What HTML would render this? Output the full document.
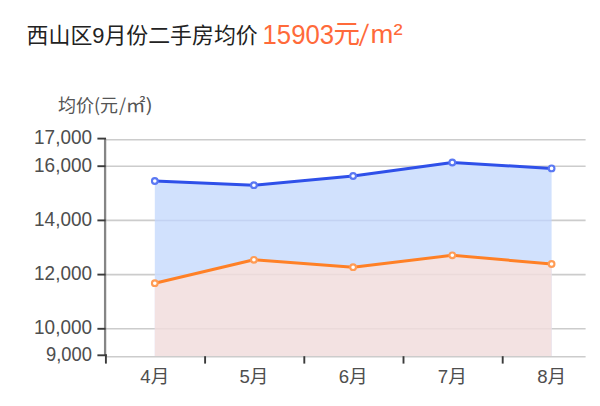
<!DOCTYPE html>
<html lang="zh">
<head>
<meta charset="utf-8">
<title>西山区9月份二手房均价</title>
<style>
html,body{margin:0;padding:0;background:#fff;}
body{width:600px;height:406px;overflow:hidden;position:relative;font-family:"Liberation Sans","Noto Sans CJK SC",sans-serif;}
svg{position:absolute;left:0;top:0;display:block;}
text{font-family:"Liberation Sans","Noto Sans CJK SC",sans-serif;}
.t1{font-size:21.9px;fill:#222;}
.t2{font-size:26.6px;fill:#ff6a3a;}
.t2d{font-size:27.6px;fill:#ff6a3a;}
.t2s{font-size:23px;fill:#ff6a3a;font-family:"Noto Sans CJK SC",sans-serif;}
.ax{font-size:19.4px;fill:#4e4e4e;}
.xl{font-size:18.6px;}
.un{font-size:18px;fill:#555;font-family:"Noto Sans CJK SC",sans-serif;}
</style>
</head>
<body>
<svg width="600" height="406" viewBox="0 0 600 406">
  <!-- title -->
  <text x="26.6" y="43" class="t1">西山区9月份二手房均价</text>
  <text x="262.6" y="43.6" class="t2d" textLength="71.4" lengthAdjust="spacingAndGlyphs">15903</text>
  <text x="333.4" y="43.4" class="t2">元</text>
  <text transform="translate(358.6,42.2) scale(1.22,1)" class="t2s">/</text>
  <text x="370.6" y="43.4" class="t2" textLength="32" lengthAdjust="spacingAndGlyphs">m²</text>
  <!-- unit -->
  <text x="58" y="112" class="un">均价(元</text>
  <text x="119" y="112" class="un">/</text>
  <text transform="translate(125.8,112) scale(1.1,1)" class="un">㎡</text>
  <text transform="translate(145.6,112) scale(1.2,1)" class="un">)</text>
  <!-- grid lines -->
  <g stroke="#cccccc" stroke-width="1.6" fill="none">
    <line x1="106" y1="139.7" x2="585.6" y2="139.7"/>
    <line x1="106" y1="166.2" x2="585.6" y2="166.2"/>
    <line x1="106" y1="220.4" x2="585.6" y2="220.4"/>
    <line x1="106" y1="274.6" x2="585.6" y2="274.6"/>
    <line x1="106" y1="328.8" x2="585.6" y2="328.8"/>
    <line x1="106" y1="356.8" x2="585.6" y2="356.8"/>
  </g>
  <!-- areas -->
  <polygon points="154.8,181 253.9,185.2 353.1,176 452.3,162.5 551.6,168.4 551.6,356.1 154.8,356.1" fill="#d1e1fd"/>
  <polygon points="154.8,283.2 253.9,259.8 353.1,267.2 452.3,255.3 551.6,264 551.6,356.1 154.8,356.1" fill="#f3e2e2"/>
  <!-- faint gridlines over areas -->
  <g stroke-width="1.5">
    <line x1="154.8" y1="220.4" x2="551.6" y2="220.4" stroke="#2a3f80" stroke-opacity="0.085"/>
    <line x1="154.8" y1="274.6" x2="551.6" y2="274.6" stroke="#000" stroke-opacity="0.03"/>
    <line x1="154.8" y1="328.8" x2="551.6" y2="328.8" stroke="#000" stroke-opacity="0.03"/>
  </g>
  <!-- axes -->
  <line x1="105.1" y1="138.6" x2="105.1" y2="355" stroke="#858585" stroke-width="2.3"/>
  <g stroke="#3a3a3a" stroke-width="1.9" fill="none">
    <line x1="97.4" y1="138.6" x2="106" y2="138.6"/>
    <line x1="97.4" y1="166.2" x2="105.6" y2="166.2"/>
    <line x1="97.4" y1="220.4" x2="105.6" y2="220.4"/>
    <line x1="97.4" y1="274.6" x2="105.6" y2="274.6"/>
    <line x1="97.4" y1="328.8" x2="105.6" y2="328.8"/>
    <line x1="97.4" y1="355.3" x2="106.8" y2="355.3"/>
    <line x1="105.9" y1="354.4" x2="105.9" y2="363.6"/>
    <line x1="205.1" y1="356.2" x2="205.1" y2="363.6"/>
    <line x1="304.3" y1="356.2" x2="304.3" y2="363.6"/>
    <line x1="403.5" y1="356.2" x2="403.5" y2="363.6"/>
    <line x1="502.7" y1="356.2" x2="502.7" y2="363.6"/>
  </g>
  <!-- lines -->
  <polyline points="154.8,181 253.9,185.2 353.1,176 452.3,162.5 551.6,168.4" fill="none" stroke="#2f50e9" stroke-width="3" stroke-linejoin="round"/>
  <polyline points="154.8,283.2 253.9,259.8 353.1,267.2 452.3,255.3 551.6,264" fill="none" stroke="#ff8026" stroke-width="3" stroke-linejoin="round"/>
  <g fill="#fff" stroke="#5a78f3" stroke-width="2.1">
    <circle cx="154.8" cy="181" r="2.85"/><circle cx="253.9" cy="185.2" r="2.85"/><circle cx="353.1" cy="176" r="2.85"/><circle cx="452.3" cy="162.5" r="2.85"/><circle cx="551.6" cy="168.4" r="2.85"/>
  </g>
  <g fill="#fff" stroke="#ff9c55" stroke-width="2.1">
    <circle cx="154.8" cy="283.2" r="2.85"/><circle cx="253.9" cy="259.8" r="2.85"/><circle cx="353.1" cy="267.2" r="2.85"/><circle cx="452.3" cy="255.3" r="2.85"/><circle cx="551.6" cy="264" r="2.85"/>
  </g>
  <!-- y labels -->
  <g class="ax" text-anchor="end">
    <text x="92" y="143.7" textLength="57.9" lengthAdjust="spacingAndGlyphs">17,000</text>
    <text x="92" y="171.6" textLength="57.9" lengthAdjust="spacingAndGlyphs">16,000</text>
    <text x="92" y="225.9" textLength="57.9" lengthAdjust="spacingAndGlyphs">14,000</text>
    <text x="92" y="280.1" textLength="57.9" lengthAdjust="spacingAndGlyphs">12,000</text>
    <text x="92" y="334.4" textLength="57.9" lengthAdjust="spacingAndGlyphs">10,000</text>
    <text x="92" y="361.3" textLength="46" lengthAdjust="spacingAndGlyphs">9,000</text>
  </g>
  <!-- x labels -->
  <g class="ax xl" text-anchor="middle">
    <text x="154.8" y="383">4月</text>
    <text x="253.9" y="383">5月</text>
    <text x="353.1" y="383">6月</text>
    <text x="452.3" y="383">7月</text>
    <text x="551.6" y="383">8月</text>
  </g>
</svg>
</body>
</html>
